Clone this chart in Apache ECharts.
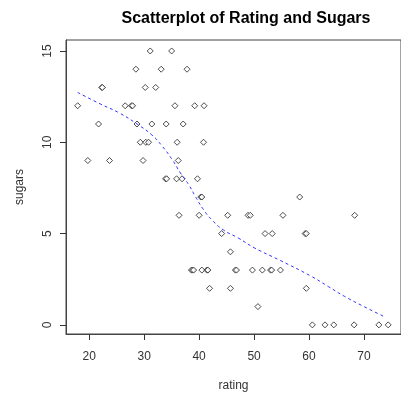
<!DOCTYPE html>
<html><head><meta charset="utf-8">
<script src="https://cdn.jsdelivr.net/npm/echarts@6/dist/echarts.min.js"></script>
<style>html,body{margin:0;padding:0;background:#fff}#c{width:401px;height:398px}</style>
</head><body><div id="c"></div>
<script>
var ratings = [31.1,35.0, 28.5,33.1,37.8, 22.3,22.4,30.2,32.1,
  17.9,26.55,27.7,27.9,35.6,39.2,40.9,
  21.7,28.7,31.4,34.0,37.1,
  29.3,30.3,30.8,36.0,40.8,
  19.75,23.7,29.8,36.2,
  33.9,34.1,35.9,36.9,39.7,
  40.3,40.5,58.3,
  36.35,40.0,45.2,48.9,49.3,55.25,68.3,
  44.1,52.0,53.3,59.3,59.5,
  45.7,
  38.6,38.8,39.0,40.5,41.4,41.6,46.6,46.8,49.7,51.5,53.0,53.2,54.8,
  41.9,45.7,59.5,
  50.7,
  60.6,62.9,64.5,68.2,72.7,74.4];
var sugars = [15,15, 14,14,14, 13,13,13,13,
  12,12,12,12,12,12,12,
  11,11,11,11,11,
  10,10,10,10,10,
  9,9,9,9,
  8,8,8,8,8,
  7,7,7,
  6,6,6,6,6,6,6,
  5,5,5,5,5,
  4,
  3,3,3,3,3,3,3,3,3,3,3,3,3,
  2,2,2,
  1,
  0,0,0,0,0,0];
var smoothX = [17.9,22.0,25.5,28.7,31.4,33.3,35.1,36.6,38.1,39.3,40.8,42.3,44.4,47.1,50.1,54.6,60.4,63.5,66.4,70.0,73.9];
var smoothY = [12.73,12.1,11.6,11.0,10.4,9.78,9.05,8.32,7.68,7.04,6.31,5.76,5.2,4.76,4.21,3.55,2.66,2.1,1.57,1.0,0.42];
var xTicks = [20,30,40,50,60,70];
var yTicks = [0,5,10,15];

var pts = ratings.map(function(r,i){return [r,sugars[i]];});
var line = smoothX.map(function(x,i){return [x,smoothY[i]];});
var font = 'Liberation Sans, Arial, sans-serif';
var chart = echarts.init(document.getElementById('c'));
chart.setOption({
  backgroundColor:'#fff',
  animation:false,
  title:{text:'Scatterplot of Rating and Sugars',left:241,top:6,textAlign:'center',
    textStyle:{fontFamily:font,fontSize:16,fontWeight:'bold',color:'#000'}},
  grid:{left:66,top:40,width:338,height:294,show:true,borderColor:'#444',borderWidth:1,backgroundColor:'transparent'},
  xAxis:{type:'value',position:'bottom',min:15.78,max:76.73,splitLine:{show:false},
    axisLine:{show:true,onZero:false,lineStyle:{color:'#444',width:1}},
    axisTick:{show:true,inside:false,length:6,lineStyle:{color:'#333'},customValues:xTicks},
    axisLabel:{customValues:xTicks,margin:17,color:'#333',fontFamily:font,fontSize:12},
    name:'rating',nameLocation:'middle',nameGap:46,nameTextStyle:{color:'#333',fontFamily:font,fontSize:12}},
  yAxis:{type:'value',position:'left',min:-0.5,max:15.6,splitLine:{show:false},
    axisLine:{show:true,onZero:false,lineStyle:{color:'#444',width:1}},
    axisTick:{show:true,inside:false,length:6,lineStyle:{color:'#333'},customValues:yTicks},
    axisLabel:{customValues:yTicks,rotate:90,margin:12,color:'#333',fontFamily:font,fontSize:12},
    name:'sugars',nameLocation:'middle',nameGap:40,nameTextStyle:{color:'#333',fontFamily:font,fontSize:12}},
  series:[
    {type:'scatter',data:pts,symbol:'diamond',symbolSize:6,
      itemStyle:{color:'#fff',borderColor:'#222',borderWidth:1}},
    {type:'line',data:line,smooth:true,showSymbol:false,
      lineStyle:{color:'#3333ff',width:1,type:[3,3]}}
  ]
});
</script></body></html>
